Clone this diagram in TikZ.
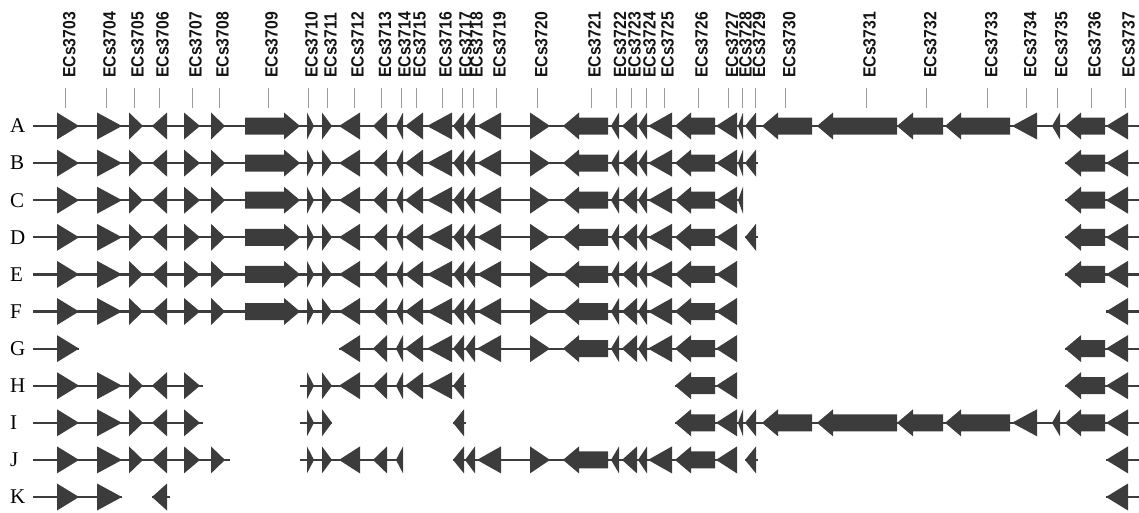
\documentclass[tikz,border=0pt]{standalone}
\usepackage{fontspec}
\setmainfont{Liberation Serif}
\newfontfamily\labelfont[FakeStretch=0.89]{Liberation Sans}
\usepackage{xcolor}
\usepackage{tikz}
\usetikzlibrary{calc}
\definecolor{genegray}{RGB}{60, 60, 60}
\definecolor{tickgray}{RGB}{155, 155, 155}
\definecolor{labeltext}{RGB}{20, 20, 20}

% gene shapes: start x, end x, row y
\newcommand{\geneR}[3]{\fill[genegray] (#1,#3-13.5) -- (#2,#3) -- (#1,#3+13.5) -- cycle;}
\newcommand{\geneL}[3]{\fill[genegray] (#2,#3-13.5) -- (#1,#3) -- (#2,#3+13.5) -- cycle;}
\newcommand{\geneBR}[3]{\fill[genegray] (#1,#3-8.5) -- (#2-16,#3-8.5) -- (#2-16,#3-13.5) -- (#2,#3) -- (#2-16,#3+13.5) -- (#2-16,#3+8.5) -- (#1,#3+8.5) -- cycle;}
\newcommand{\geneBL}[3]{\fill[genegray] (#2,#3-8.5) -- (#1+16,#3-8.5) -- (#1+16,#3-13.5) -- (#1,#3) -- (#1+16,#3+13.5) -- (#1+16,#3+8.5) -- (#2,#3+8.5) -- cycle;}

\begin{document}
\begin{tikzpicture}[
    x=1pt, y=-1pt,
    backbone/.style={draw=genegray, line width=2.2pt},
    tickline/.style={draw=tickgray, line width=1pt},
    genelabel/.style={rotate=90, anchor=west, inner sep=0pt, text=labeltext, font=\labelfont\bfseries\fontsize{17.7}{17.7}\selectfont},
    rowlabel/.style={anchor=base west, inner sep=0pt, font=\fontsize{21}{21}\selectfont}
]
    \useasboundingbox (0,0) rectangle (1139,512);

    % Gene table: id / shape / start / end / tick
    \foreach \id/\ty/\xa/\xb/\tk in {
        3703/R/57/79/65.7, 3704/R/97/122/106, 3705/R/129/143/134, 3706/L/152/167/159,
        3707/R/184/200/192, 3708/R/211/225/219, 3709/BR/245/300/268, 3710/R/307/314/308,
        3711/R/322/332/327, 3712/L/339/360/354, 3713/L/373/387/381.5, 3714/L/396/403/401,
        3715/L/405/423/416, 3716/L/427/452/442, 3717/L/453/464/462, 3718/L/465/475/473,
        3719/L/477/501/496, 3720/R/530/550/537.7, 3721/BL/563/608/591, 3722/L/611/619/616.5,
        3723/L/622/637/631, 3724/L/638/647/646, 3725/L/648/672/664, 3726/BL/675/715/698,
        3727/L/716/737/728.5, 3728/L/738/743/742, 3729/L/745/756/755.5, 3730/BL/762/812/785.7,
        3731/BL/817/897/866, 3732/BL/897/943/926.7, 3733/BL/945/1010/987.7, 3734/L/1012/1037/1026.7,
        3735/L/1052/1060/1057.7, 3736/BL/1065/1105/1091, 3737/L/1106/1128/1125}
    {
        \expandafter\xdef\csname gene-\id\endcsname{\expandafter\noexpand\csname gene\ty\endcsname{\xa}{\xb}}
        \draw[tickline] (\tk,88) -- (\tk,108);
        \node[genelabel] (lab\id) at (\tk+3.5,78) {ECs\id};
    }

    % Row A
    \def\ry{126}
    \node[rowlabel] (rowA) at (10,\ry+6.8) {A};
    \foreach \s/\e in {33/1139} \draw[backbone] (\s,\ry) -- (\e,\ry);
    \foreach \a/\b in {3703/3737} \foreach \g in {\a,...,\b} \csname gene-\g\endcsname{\ry};

    % Row B
    \def\ry{163.1}
    \node[rowlabel] (rowB) at (10,\ry+6.8) {B};
    \foreach \s/\e in {33/758, 1065/1139} \draw[backbone] (\s,\ry) -- (\e,\ry);
    \foreach \a/\b in {3703/3729, 3736/3737} \foreach \g in {\a,...,\b} \csname gene-\g\endcsname{\ry};

    % Row C
    \def\ry{200.2}
    \node[rowlabel] (rowC) at (10,\ry+6.8) {C};
    \foreach \s/\e in {33/743, 1065/1139} \draw[backbone] (\s,\ry) -- (\e,\ry);
    \foreach \a/\b in {3703/3728, 3736/3737} \foreach \g in {\a,...,\b} \csname gene-\g\endcsname{\ry};

    % Row D
    \def\ry{237.3}
    \node[rowlabel] (rowD) at (10,\ry+6.8) {D};
    \foreach \s/\e in {33/737, 745/758, 1065/1139} \draw[backbone] (\s,\ry) -- (\e,\ry);
    \foreach \a/\b in {3703/3727, 3729/3729, 3736/3737} \foreach \g in {\a,...,\b} \csname gene-\g\endcsname{\ry};

    % Row E
    \def\ry{274.4}
    \node[rowlabel] (rowE) at (10,\ry+6.8) {E};
    \foreach \s/\e in {33/737, 1065/1139} \draw[backbone] (\s,\ry) -- (\e,\ry);
    \foreach \a/\b in {3703/3727, 3736/3737} \foreach \g in {\a,...,\b} \csname gene-\g\endcsname{\ry};

    % Row F
    \def\ry{311.5}
    \node[rowlabel] (rowF) at (10,\ry+6.8) {F};
    \foreach \s/\e in {33/737, 1106/1139} \draw[backbone] (\s,\ry) -- (\e,\ry);
    \foreach \a/\b in {3703/3727, 3737/3737} \foreach \g in {\a,...,\b} \csname gene-\g\endcsname{\ry};

    % Row G
    \def\ry{348.6}
    \node[rowlabel] (rowG) at (10,\ry+6.8) {G};
    \foreach \s/\e in {33/79, 339/737, 1065/1139} \draw[backbone] (\s,\ry) -- (\e,\ry);
    \foreach \a/\b in {3703/3703, 3712/3727, 3736/3737} \foreach \g in {\a,...,\b} \csname gene-\g\endcsname{\ry};

    % Row H
    \def\ry{385.7}
    \node[rowlabel] (rowH) at (10,\ry+6.8) {H};
    \foreach \s/\e in {33/203, 300/466, 675/737, 1065/1139} \draw[backbone] (\s,\ry) -- (\e,\ry);
    \foreach \a/\b in {3703/3707, 3710/3717, 3726/3727, 3736/3737} \foreach \g in {\a,...,\b} \csname gene-\g\endcsname{\ry};

    % Row I
    \def\ry{422.8}
    \node[rowlabel] (rowI) at (10,\ry+6.8) {I};
    \foreach \s/\e in {33/203, 300/332, 453/466, 675/1139} \draw[backbone] (\s,\ry) -- (\e,\ry);
    \foreach \a/\b in {3703/3707, 3710/3711, 3717/3717, 3726/3737} \foreach \g in {\a,...,\b} \csname gene-\g\endcsname{\ry};

    % Row J
    \def\ry{459.9}
    \node[rowlabel] (rowJ) at (10,\ry+6.8) {J};
    \foreach \s/\e in {33/230, 300/403, 453/737, 745/758, 1106/1139} \draw[backbone] (\s,\ry) -- (\e,\ry);
    \foreach \a/\b in {3703/3708, 3710/3714, 3717/3727, 3729/3729, 3737/3737} \foreach \g in {\a,...,\b} \csname gene-\g\endcsname{\ry};

    % Row K
    \def\ry{497}
    \node[rowlabel] (rowK) at (10,\ry+6.8) {K};
    \foreach \s/\e in {33/122, 152/170, 1106/1139} \draw[backbone] (\s,\ry) -- (\e,\ry);
    \foreach \a/\b in {3703/3704, 3706/3706, 3737/3737} \foreach \g in {\a,...,\b} \csname gene-\g\endcsname{\ry};

\end{tikzpicture}
\end{document}
